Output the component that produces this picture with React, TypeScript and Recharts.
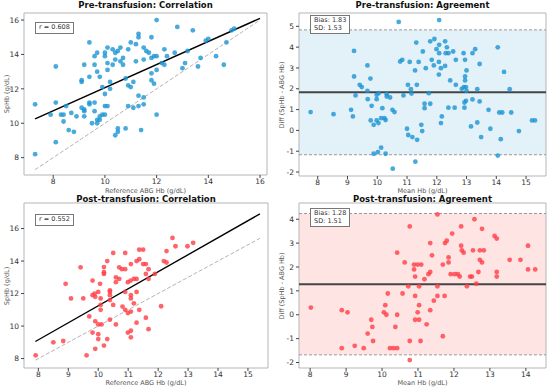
import React from 'react'
import { ScatterChart, Scatter, XAxis, YAxis, ReferenceLine, ReferenceArea } from 'recharts'

// pre-transfusion: reference ABG Hb vs SpHb
const preCorr: [number, number][] = [
  [7.3, 11.1], [7.3, 8.2], [7.9, 10.5], [8.1, 13.3], [8.1, 11.2], [8.1, 8.9], [8.3, 10.5], [8.4, 10.5],
  [8.4, 10.1], [8.5, 11.0], [8.6, 9.6], [8.7, 10.6], [8.8, 9.5], [8.9, 10.4], [9.1, 12.5], [9.1, 12.4],
  [9.1, 10.9], [9.2, 10.8], [9.2, 13.4], [9.2, 10.4], [9.2, 10.7], [9.4, 14.7], [9.4, 12.7], [9.4, 11.2],
  [9.4, 11.1], [9.5, 10.0], [9.6, 11.2], [9.6, 10.7], [9.6, 13.4], [9.6, 13.9], [9.7, 14.1], [9.7, 13.0],
  [9.7, 10.2], [9.7, 10.0], [9.8, 12.7], [9.8, 10.4], [9.8, 10.2], [9.9, 12.1], [9.9, 10.5], [10.0, 14.1],
  [10.0, 13.9], [10.0, 11.7], [10.0, 11.0], [10.0, 10.5], [10.1, 14.4], [10.1, 13.5], [10.1, 13.1], [10.1, 11.0],
  [10.2, 12.4], [10.2, 12.0], [10.3, 14.3], [10.3, 13.4], [10.4, 14.1], [10.4, 13.7], [10.4, 9.3], [10.5, 14.2],
  [10.5, 9.7], [10.5, 9.5], [10.6, 14.4], [10.6, 13.6], [10.7, 13.8], [10.7, 13.4], [10.8, 12.6], [10.8, 9.7],
  [10.9, 14.3], [10.9, 12.2], [10.9, 11.0], [11.0, 14.7], [11.0, 12.1], [11.1, 12.4], [11.1, 10.9], [11.2, 14.6],
  [11.2, 13.6], [11.3, 15.2], [11.3, 15.0], [11.3, 11.6], [11.3, 11.0], [11.4, 9.6], [11.5, 14.4], [11.5, 13.7],
  [11.5, 11.5], [11.5, 11.1], [11.6, 14.2], [11.7, 14.1], [11.8, 15.0], [11.8, 13.8], [11.8, 12.9], [11.8, 12.5],
  [11.9, 13.9], [11.9, 12.3], [12.0, 16.0], [12.0, 13.9], [12.0, 13.1], [12.0, 10.5], [12.2, 13.5], [12.3, 14.3],
  [12.3, 13.4], [12.4, 13.9], [12.7, 14.1], [12.8, 15.6], [13.0, 13.2], [13.1, 13.5], [13.2, 14.2], [13.4, 15.4],
  [13.6, 13.3], [13.7, 13.8], [13.9, 14.8], [14.0, 14.9], [14.3, 13.9], [14.6, 13.4], [14.7, 14.7], [14.9, 15.4],
  [15.0, 15.5],
]
const preFit: [number, number][] = [[7.3, 10.25], [16.0, 16.1]]
const preIdentity: [number, number][] = [[7.3, 7.3], [16.0, 16.0]]
const preR = 0.608

// pre-transfusion: mean Hb vs difference
const preBA: [number, number][] = [
  [7.76, 0.88], [8.53, 0.78], [9.12, 0.99], [9.18, 0.67], [9.22, 3.82], [9.22, 2.59], [9.27, 1.68], [9.41, 2.19],
  [9.48, 2.08], [9.67, 3.12], [9.67, 1.9], [9.68, 1.5], [9.77, 2.49], [9.78, 0.48], [9.81, 1.18], [9.88, 0.27],
  [9.88, -1.12], [9.98, 1.71], [9.98, 1.5], [9.98, 0.48], [10.02, -1.04], [10.04, 0.35], [10.05, 1.79], [10.13, -0.83],
  [10.13, 0.59], [10.17, 1.07], [10.24, 0.59], [10.28, -1.12], [10.28, 0.5], [10.32, 1.74], [10.32, 1.63], [10.43, 1.58],
  [10.51, 0.99], [10.52, -1.84], [10.58, 0.88], [10.72, 5.21], [10.77, 3.31], [10.84, 3.39], [10.88, 1.68], [11.0, 0.08],
  [11.03, 2.19], [11.04, -0.22], [11.09, 3.29], [11.13, 1.98], [11.15, 1.77], [11.18, -0.32], [11.27, 2.88], [11.28, -1.5],
  [11.31, 4.22], [11.33, 2.19], [11.34, -0.45], [11.39, 3.29], [11.48, 0.27], [11.51, -0.03], [11.53, 3.79], [11.59, 1.28],
  [11.59, 1.07], [11.63, 2.99], [11.73, 1.79], [11.78, 4.28], [11.78, 1.28], [11.83, 3.39], [11.9, 3.12], [11.92, 4.39],
  [11.99, 3.9], [12.07, 3.29], [12.07, 2.68], [12.08, 3.71], [12.08, 5.3], [12.08, 4.11], [12.14, 2.99], [12.17, 0.67],
  [12.14, 0.35], [12.28, 4.28], [12.28, 3.1], [12.3, 3.71], [12.34, 3.99], [12.39, 3.71], [12.39, 1.09], [12.45, 2.4],
  [12.55, 3.79], [12.6, 1.09], [12.64, 3.39], [12.64, 2.19], [12.84, 2.0], [12.9, 3.71], [12.91, 2.08], [12.93, 1.34],
  [12.93, 1.09], [12.95, 3.39], [12.95, 2.59], [12.95, 2.4], [12.98, 2.08], [12.98, 1.42], [13.0, 2.88], [13.0, 1.9],
  [13.15, 0.19], [13.2, 3.71], [13.2, 1.49], [13.29, 3.9], [13.36, 1.98], [13.36, 0.38], [13.44, 3.19], [13.44, 1.39],
  [13.49, -0.32], [13.74, 0.99], [13.8, 0.08], [14.05, 3.99], [14.05, -1.21], [14.1, 0.86], [14.15, -0.42], [14.26, 2.81],
  [14.2, 0.86], [14.45, 1.98], [14.5, 0.86], [14.76, -0.03], [15.2, 0.48], [15.3, 0.48],
]
const preBias = 1.83
const preSD = 1.53

// post-transfusion: reference ABG Hb vs SpHb
const postCorr: [number, number][] = [
  [7.91, 8.2], [8.5, 9.0], [8.83, 9.08], [8.91, 12.6], [9.09, 11.7], [9.41, 13.61], [9.5, 11.7], [9.61, 8.2],
  [9.7, 10.59], [9.81, 12.8], [9.81, 11.9], [9.81, 9.6], [9.88, 12.0], [9.9, 11.8], [9.9, 10.29], [9.9, 8.6],
  [10.0, 10.1], [10.0, 9.5], [10.0, 9.2], [10.0, 12.1], [10.06, 12.6], [10.08, 11.7], [10.08, 11.3], [10.08, 11.0],
  [10.11, 10.1], [10.19, 13.63], [10.19, 13.31], [10.19, 13.21], [10.19, 8.8], [10.3, 9.2], [10.3, 14.0], [10.39, 12.2],
  [10.39, 12.1], [10.39, 11.9], [10.39, 11.6], [10.39, 10.39], [10.5, 14.5], [10.5, 11.3], [10.59, 13.0], [10.59, 12.7],
  [10.59, 10.1], [10.7, 13.61], [10.7, 12.9], [10.79, 13.5], [10.81, 11.2], [10.9, 14.5], [10.9, 13.5], [10.9, 12.1],
  [10.9, 11.0], [10.99, 12.7], [10.99, 10.8], [10.99, 9.6], [11.08, 12.8], [11.09, 13.81], [11.09, 11.9], [11.09, 11.7],
  [11.09, 10.89], [11.09, 9.71], [11.09, 9.31], [11.19, 11.4], [11.19, 12.9], [11.28, 12.9], [11.28, 12.1], [11.28, 10.21],
  [11.28, 14.0], [11.37, 14.7], [11.37, 14.11], [11.37, 11.0], [11.5, 14.7], [11.5, 13.81], [11.59, 13.81], [11.59, 13.21],
  [11.59, 10.51], [11.68, 13.5], [11.68, 12.9], [11.68, 9.81], [11.89, 13.21], [12.1, 11.22], [12.19, 14.0], [12.28, 14.61],
  [12.28, 13.91], [12.48, 15.42], [12.58, 14.91], [12.98, 14.91], [13.17, 15.12],
]
const postFit: [number, number][] = [[7.9, 9.05], [15.4, 16.9]]
const postIdentity: [number, number][] = [[7.9, 7.9], [15.4, 15.4]]
const postR = 0.552

// post-transfusion: mean Hb vs difference
const postBA: [number, number][] = [
  [8.02, 0.3], [8.88, 0.19], [8.88, -1.4], [9.04, 0.1], [9.24, -1.3], [9.49, -1.4], [9.6, -0.79], [9.7, -0.21],
  [9.73, -0.51], [9.75, -1.1], [10.05, 0.1], [10.09, 0.4], [10.12, 0.0], [10.16, 0.89], [10.22, -1.4], [10.32, -1.4],
  [10.37, -0.51], [10.42, 2.6], [10.42, 0.0], [10.42, -1.4], [10.57, 0.89], [10.63, 2.19], [10.73, 1.19], [10.77, 3.7],
  [10.77, -1.1], [10.77, -1.9], [10.89, 2.1], [10.89, 1.9], [10.92, 1.6], [10.92, 0.79], [10.92, -0.21], [10.99, 2.1],
  [10.99, 0.1], [11.03, 1.19], [11.03, 0.4], [11.03, -0.21], [11.07, -1.1], [11.09, 2.1], [11.18, 1.49], [11.24, -0.4],
  [11.29, 1.7], [11.34, 3.0], [11.34, 1.79], [11.34, 0.19], [11.39, 2.49], [11.44, 0.59], [11.54, 4.2], [11.54, 1.19],
  [11.54, 0.79], [11.69, 2.1], [11.69, -0.9], [11.74, 0.79], [11.75, 3.0], [11.8, 3.1], [11.85, 2.4], [11.85, 2.19],
  [11.91, 1.7], [11.95, 3.4], [12.02, 1.7], [12.11, 1.7], [12.16, 1.6], [12.2, 3.7], [12.2, 2.89], [12.22, 2.7],
  [12.27, 2.6], [12.36, 1.19], [12.45, 1.6], [12.5, 1.6], [12.53, 2.7], [12.57, 4.0], [12.62, 1.3], [12.68, 1.79],
  [12.72, 2.7], [12.72, 2.3], [12.78, 2.19], [12.78, 3.6], [12.83, 2.7], [13.13, 3.3], [13.19, 3.19], [13.19, 1.79],
  [13.19, 1.6], [13.55, 2.3], [13.85, 2.3], [14.06, 2.89], [14.06, 1.9], [14.26, 1.9],
]
const postBias = 1.28
const postSD = 1.51

const FONT = 'DejaVu Sans'
const BLUE = '#1b95d3'
const RED = '#ff3d45'

const toPts = (arr: [number, number][]) => arr.map(([x, y]) => ({ x, y }))
const seg = (arr: [number, number][]) => arr.map(([x, y]) => ({ x, y }))

const tickStyle = { fontSize: 7.5, fill: '#333', fontFamily: FONT }

function Dot(color: string) {
  return (props: any) => <circle cx={props.cx} cy={props.cy} r={2.4} fill={color} fillOpacity={0.8} />
}

interface PanelProps {
  left: number
  top: number
  title: string
  titleTop: number
  margin: { top: number; right: number; bottom: number; left: number }
  xAxisHeight: number
  xDomain: [number, number]
  xTicks: number[]
  yDomain: [number, number]
  yTicks: number[]
  yLabel: string
  xLabel: string
  xLabelTop: number
  box: string[]
  boxPos: { left: number; top: number }
  children: React.ReactNode
}

function Panel(p: PanelProps) {
  const plotLeft = p.margin.left + 24
  const plotRight = 275 - p.margin.right
  const plotTop = p.margin.top
  const plotBottom = 195 - p.margin.bottom - p.xAxisHeight
  return (
    <div style={{ position: 'absolute', left: p.left, top: p.top, width: 275, height: 195 }}>
      <ScatterChart width={275} height={195} margin={p.margin}>
        <XAxis type="number" dataKey="x" domain={p.xDomain} ticks={p.xTicks} allowDataOverflow
          height={p.xAxisHeight} tick={tickStyle} tickSize={3} tickMargin={1} tickLine={{ stroke: '#444' }} axisLine={false} />
        <YAxis type="number" dataKey="y" domain={p.yDomain} ticks={p.yTicks} allowDataOverflow
          width={24} tick={tickStyle} tickSize={3} tickLine={{ stroke: '#444' }} axisLine={false} />
        {p.children}
        <ReferenceArea x1={p.xDomain[0]} x2={p.xDomain[1]} y1={p.yDomain[0]} y2={p.yDomain[1]}
          fill="none" stroke="#b5b5b5" strokeWidth={1} ifOverflow="visible" />
      </ScatterChart>
      <div style={{ position: 'absolute', left: plotLeft, width: plotRight - plotLeft, top: p.titleTop,
        textAlign: 'center', fontFamily: FONT, fontWeight: 'bold', fontSize: 8.5, color: '#111', lineHeight: '9px' }}>
        {p.title}
      </div>
      <div style={{ position: 'absolute', left: 7 - 60, width: 120, top: (plotTop + plotBottom) / 2 - 4,
        textAlign: 'center', transform: 'rotate(-90deg)', fontFamily: FONT, fontSize: 6.5, color: '#555', lineHeight: '8px' }}>
        {p.yLabel}
      </div>
      <div style={{ position: 'absolute', left: plotLeft, width: plotRight - plotLeft, top: p.xLabelTop,
        textAlign: 'center', fontFamily: FONT, fontSize: 6.5, color: '#555', lineHeight: '7px' }}>
        {p.xLabel}
      </div>
      <div style={{ position: 'absolute', left: p.boxPos.left, top: p.boxPos.top, border: '1px solid #777',
        background: '#fff', padding: '1px 3px', fontFamily: FONT, fontSize: 6.5, color: '#333', lineHeight: '7.5px' }}>
        {p.box.map((t) => <div key={t}>{t}</div>)}
      </div>
    </div>
  )
}

function corrChildren(pts: [number, number][], fit: [number, number][], ident: [number, number][], color: string) {
  return [
    <ReferenceLine key="id" segment={seg(ident)} stroke="#aaa" strokeWidth={0.9} strokeDasharray="4 2" />,
    <Scatter key="pts" data={toPts(pts)} shape={Dot(color)} isAnimationActive={false} />,
    <ReferenceLine key="fit" segment={seg(fit)} stroke="#000" strokeWidth={1.4} />,
  ]
}

function baChildren(pts: [number, number][], bias: number, sd: number, color: string, shade: string) {
  const hi = bias + 1.96 * sd
  const lo = bias - 1.96 * sd
  return [
    <ReferenceArea key="band" y1={lo} y2={hi} fill={shade} fillOpacity={1} stroke="none" />,
    <ReferenceLine key="hi" y={hi} stroke="#999" strokeWidth={1} strokeDasharray="3 2" />,
    <ReferenceLine key="lo" y={lo} stroke="#999" strokeWidth={1} strokeDasharray="3 2" />,
    <ReferenceLine key="bias" y={bias} stroke="#444" strokeWidth={2} />,
    <Scatter key="pts" data={toPts(pts)} shape={Dot(color)} isAnimationActive={false} />,
  ]
}

export default function App() {
  return (
    <div style={{ position: 'absolute', left: 0, top: 0, width: 550, height: 390, background: '#fff', overflow: 'hidden' }}>
      <Panel left={0} top={0} title="Pre-transfusion: Correlation" titleTop={1}
        margin={{ top: 13, right: 8, bottom: 0, left: 0 }} xAxisHeight={20}
        xDomain={[6.87, 16.27]} xTicks={[8, 10, 12, 14, 16]} yDomain={[6.99, 16.41]} yTicks={[8, 10, 12, 14, 16]}
        yLabel="SpHb (g/dL)" xLabel="Reference ABG Hb (g/dL)" xLabelTop={188}
        box={[`r = ${preR.toFixed(3)}`]} boxPos={{ left: 35, top: 22 }}>
        {corrChildren(preCorr, preFit, preIdentity, BLUE)}
      </Panel>
      <Panel left={275} top={0} title="Pre-transfusion: Agreement" titleTop={1}
        margin={{ top: 13, right: 4, bottom: 0, left: 0 }} xAxisHeight={19}
        xDomain={[7.37, 15.67]} xTicks={[8, 9, 10, 11, 12, 13, 14, 15]} yDomain={[-2.19, 5.64]} yTicks={[-2, -1, 0, 1, 2, 3, 4, 5]}
        yLabel="Diff (SpHb - ABG Hb)" xLabel="Mean Hb (g/dL)" xLabelTop={188}
        box={[`Bias: ${preBias.toFixed(2)}`, `SD: ${preSD.toFixed(2)}`]} boxPos={{ left: 35, top: 15 }}>
        {baChildren(preBA, preBias, preSD, BLUE, '#e3f1f9')}
      </Panel>
      <Panel left={0} top={195} title="Post-transfusion: Correlation" titleTop={0}
        margin={{ top: 8, right: 7, bottom: 0, left: 0 }} xAxisHeight={22}
        xDomain={[7.52, 15.67]} xTicks={[8, 9, 10, 11, 12, 13, 14, 15]} yDomain={[7.42, 17.57]} yTicks={[8, 10, 12, 14, 16]}
        yLabel="SpHb (g/dL)" xLabel="Reference ABG Hb (g/dL)" xLabelTop={185}
        box={[`r = ${postR.toFixed(3)}`]} boxPos={{ left: 35, top: 19 }}>
        {corrChildren(postCorr, postFit, postIdentity, RED)}
      </Panel>
      <Panel left={275} top={195} title="Post-transfusion: Agreement" titleTop={0}
        margin={{ top: 8, right: 4, bottom: 0, left: 0 }} xAxisHeight={22}
        xDomain={[7.69, 14.56]} xTicks={[8, 9, 10, 11, 12, 13, 14]} yDomain={[-2.23, 4.68]} yTicks={[-2, -1, 0, 1, 2, 3, 4]}
        yLabel="Diff (SpHb - ABG Hb)" xLabel="Mean Hb (g/dL)" xLabelTop={185}
        box={[`Bias: ${postBias.toFixed(2)}`, `SD: ${postSD.toFixed(2)}`]} boxPos={{ left: 35, top: 13 }}>
        {baChildren(postBA, postBias, postSD, RED, '#ffe4e4')}
      </Panel>
    </div>
  )
}
